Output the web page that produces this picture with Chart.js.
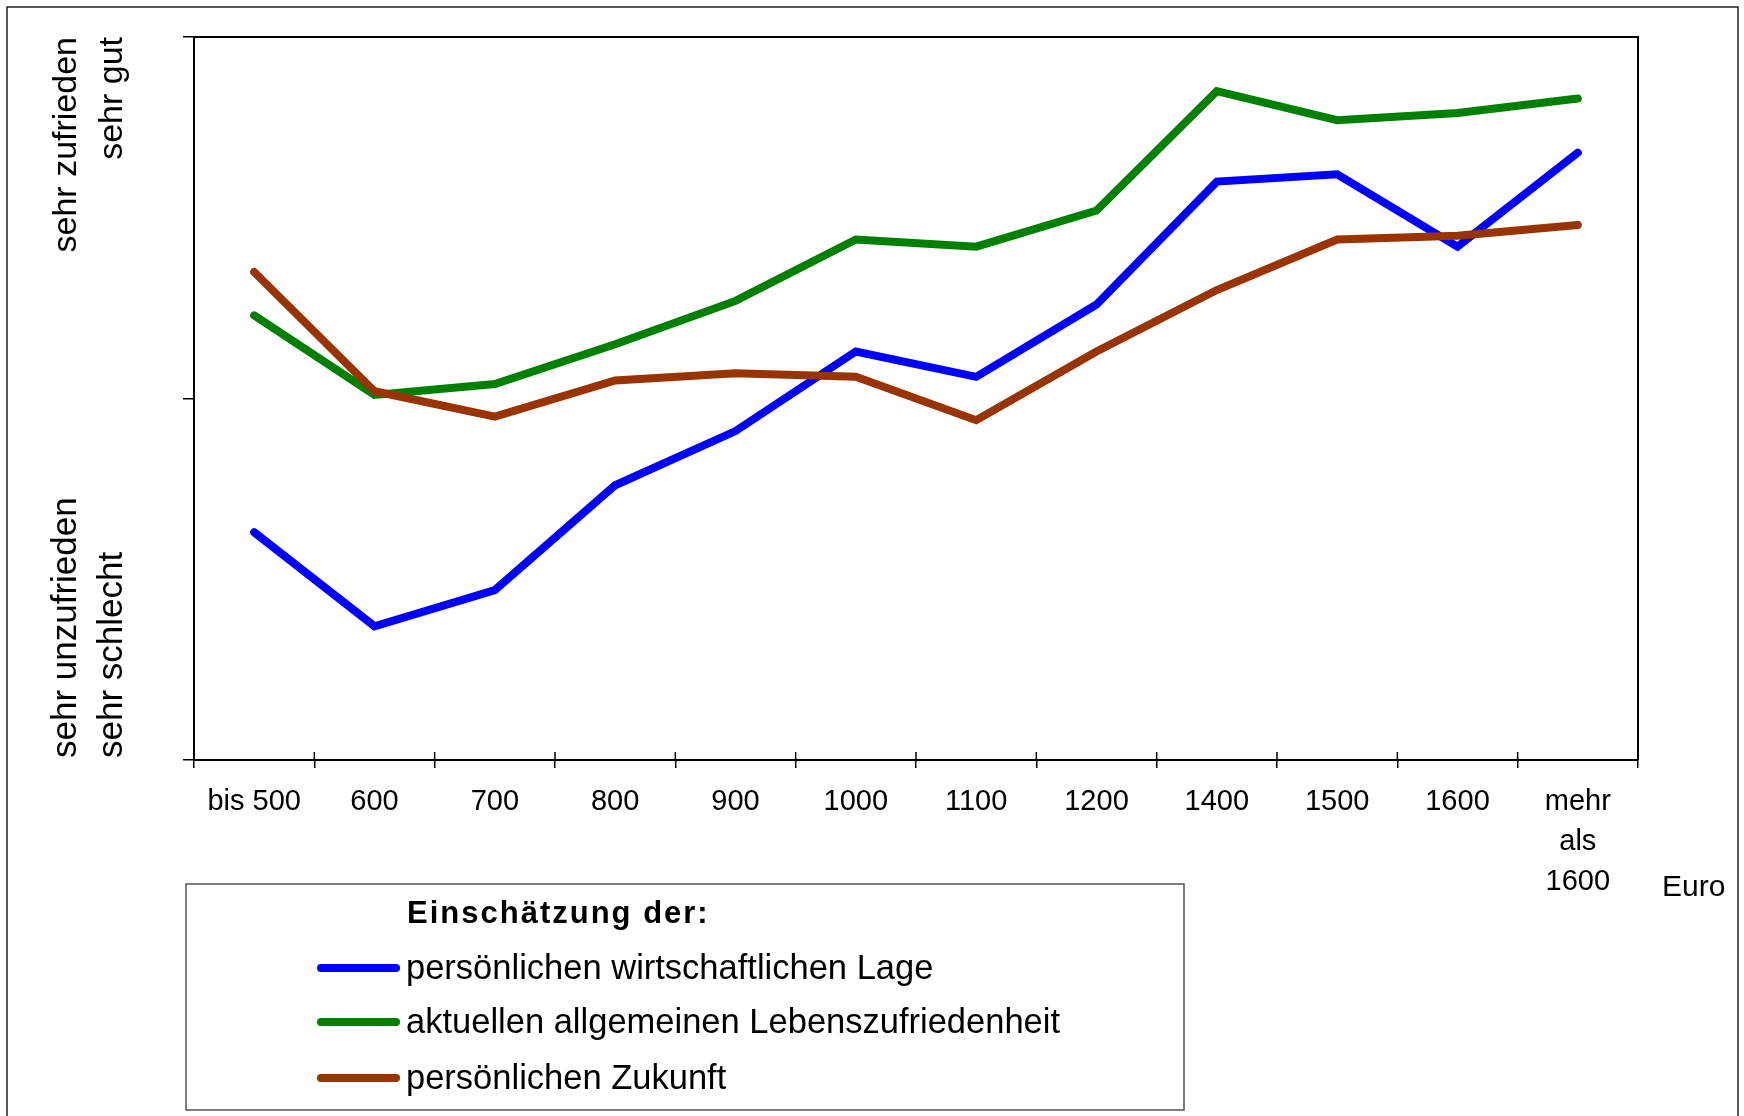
<!DOCTYPE html>
<html>
<head>
<meta charset="utf-8">
<script src="https://cdn.jsdelivr.net/npm/chart.js@4"></script>
<style>
  html, body { margin: 0; padding: 0; background: #fff; }
  #wrap { position: relative; width: 1744px; height: 1116px; overflow: hidden; }
</style>
</head>
<body>
<div id="wrap"><canvas id="chart" width="1744" height="1116"></canvas></div>
<script>
// income classes (Euro)
const categories = ["bis 500", "600", "700", "800", "900", "1000", "1100", "1200", "1400", "1500", "1600", ["mehr", "als", "1600"]];

// ratings, 0 = sehr schlecht / sehr unzufrieden, 2 = sehr gut / sehr zufrieden
const wirtschaftlicheLage = [0.63, 0.37, 0.47, 0.76, 0.91, 1.13, 1.06, 1.26, 1.60, 1.62, 1.42, 1.68];
const lebenszufriedenheit = [1.23, 1.01, 1.04, 1.15, 1.27, 1.44, 1.42, 1.52, 1.85, 1.77, 1.79, 1.83];
const zukunft = [1.35, 1.02, 0.95, 1.05, 1.07, 1.06, 0.94, 1.13, 1.30, 1.44, 1.45, 1.48];

const seriesLabels = [
  "persönlichen wirtschaftlichen Lage",
  "aktuellen allgemeinen Lebenszufriedenheit",
  "persönlichen Zukunft",
];
const seriesColors = ["#0000ff", "#008000", "#993300"];

const legendTitle = "Einschätzung der:";
const xAxisTitle = "Euro";
const yLabelsTop = ["sehr zufrieden", "sehr gut"];
const yLabelsBottom = ["sehr unzufrieden", "sehr schlecht"];

const FONT = "'Liberation Sans', Arial, sans-serif";

const decor = {
  id: "decor",
  afterDatasetsDraw(chart) {
    const { ctx, chartArea: a } = chart;
    ctx.save();
    ctx.strokeStyle = "#000";
    ctx.lineWidth = 2;
    ctx.beginPath();
    ctx.moveTo(a.left, a.top);
    ctx.lineTo(a.right, a.top);
    ctx.lineTo(a.right, a.bottom);
    ctx.stroke();

    // inner half of the category ticks
    const step = (a.right - a.left) / categories.length;
    ctx.lineWidth = 1.5;
    ctx.beginPath();
    for (let i = 1; i < categories.length; i++) {
      const px = a.left + i * step;
      ctx.moveTo(px, a.bottom);
      ctx.lineTo(px, a.bottom - 8);
    }
    ctx.stroke();
    ctx.restore();
  },
  afterDraw(chart) {
    const { ctx } = chart;
    ctx.save();

    // outer frame
    ctx.strokeStyle = "#222";
    ctx.lineWidth = 1.5;
    ctx.strokeRect(7, 7, 1731, 1140);

    ctx.fillStyle = "#000";
    ctx.textBaseline = "alphabetic";

    // rotated y labels
    [76, 122].forEach((bx, i) => {
      ctx.save();
      ctx.font = "34px " + FONT;
      ctx.translate(bx, 37);
      ctx.rotate(-Math.PI / 2);
      ctx.textAlign = "right";
      ctx.fillText(yLabelsTop[i], 0, 0);
      ctx.restore();

      ctx.save();
      ctx.font = "35px " + FONT;
      ctx.translate(bx, 758);
      ctx.rotate(-Math.PI / 2);
      ctx.textAlign = "left";
      ctx.fillText(yLabelsBottom[i], 0, 0);
      ctx.restore();
    });

    // axis unit
    ctx.textAlign = "left";
    ctx.textBaseline = "middle";
    ctx.font = "30px " + FONT;
    ctx.fillText(xAxisTitle, 1662, 888);

    // legend
    ctx.strokeStyle = "#555";
    ctx.lineWidth = 1.5;
    ctx.strokeRect(186, 884, 998, 226);

    ctx.font = "bold 31px " + FONT;
    ctx.letterSpacing = "2px";
    ctx.fillText(legendTitle, 407, 914);
    ctx.letterSpacing = "0px";

    const rows = [968, 1022, 1078];
    ctx.font = "34.5px " + FONT;
    seriesLabels.forEach((label, i) => {
      ctx.strokeStyle = seriesColors[i];
      ctx.lineWidth = 8;
      ctx.lineCap = "round";
      ctx.beginPath();
      ctx.moveTo(321, rows[i]);
      ctx.lineTo(396, rows[i]);
      ctx.stroke();
      ctx.fillText(label, 406, rows[i] + 1);
    });

    ctx.restore();
  },
};

const seriesData = [wirtschaftlicheLage, lebenszufriedenheit, zukunft];

new Chart(document.getElementById("chart"), {
  type: "line",
  data: {
    labels: categories,
    datasets: seriesData.map((data, i) => ({
      label: seriesLabels[i],
      data,
      borderColor: seriesColors[i],
      backgroundColor: seriesColors[i],
      borderWidth: 8,
      borderCapStyle: "round",
      borderJoinStyle: "miter",
      pointRadius: 0,
      tension: 0,
      order: 3 - i,
    })),
  },
  options: {
    responsive: false,
    devicePixelRatio: 1,
    animation: false,
    layout: { padding: { top: 37, right: 106, left: 0, bottom: 0 } },
    plugins: {
      legend: { display: false },
      tooltip: { enabled: false },
    },
    scales: {
      x: {
        offset: true,
        grid: {
          offset: true,
          drawOnChartArea: false,
          color: "#000",
          lineWidth: 1.5,
          tickLength: 8,
        },
        border: { color: "#000", width: 2 },
        ticks: {
          color: "#000",
          font: { family: FONT, size: 29, lineHeight: 40 / 29 },
          padding: 14,
          maxRotation: 0,
          autoSkip: false,
        },
        afterFit(scale) {
          scale.height = 356;
        },
      },
      y: {
        min: 0,
        max: 2,
        ticks: { stepSize: 1, display: false },
        grid: {
          drawOnChartArea: false,
          color: "#000",
          lineWidth: 1.5,
          tickLength: 11,
        },
        border: { color: "#000", width: 2 },
        afterFit(scale) {
          scale.width = 194;
        },
      },
    },
  },
  plugins: [decor],
});
</script>
</body>
</html>
